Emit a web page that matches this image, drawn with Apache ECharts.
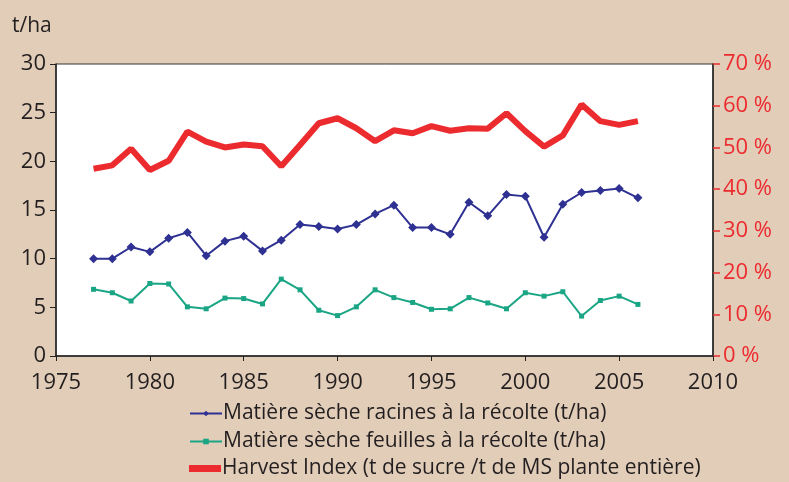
<!DOCTYPE html>
<html>
<head>
<meta charset="utf-8">
<script src="https://cdn.jsdelivr.net/npm/echarts@6/dist/echarts.min.js"></script>
<style>
html,body{margin:0;padding:0;background:#e2cdb9;}
#c{width:789px;height:482px;}
</style>
</head>
<body>
<div id="c"></div>
<script>
const years = [1977,1978,1979,1980,1981,1982,1983,1984,1985,1986,1987,1988,1989,1990,1991,1992,1993,1994,1995,1996,1997,1998,1999,2000,2001,2002,2003,2004,2005,2006];
const racines = [10.0,10.0,11.2,10.7,12.1,12.7,10.3,11.8,12.3,10.8,11.9,13.5,13.3,13.05,13.5,14.6,15.5,13.2,13.2,12.5,15.8,14.4,16.6,16.4,12.2,15.6,16.8,17.0,17.2,16.25];
const feuilles = [6.85,6.5,5.65,7.45,7.4,5.05,4.85,5.95,5.9,5.35,7.9,6.8,4.7,4.15,5.05,6.8,6.0,5.5,4.8,4.85,6.0,5.45,4.85,6.5,6.15,6.6,4.1,5.7,6.15,5.3];
const harvest = [44.9,45.7,49.7,44.6,46.8,53.8,51.4,50.0,50.7,50.3,45.5,50.6,55.8,57.0,54.6,51.5,54.1,53.4,55.1,54.0,54.6,54.5,58.2,53.9,50.2,52.9,60.3,56.3,55.4,56.3];
const names = ['Matière sèche racines à la récolte (t/ha)','Matière sèche feuilles à la récolte (t/ha)','Harvest Index (t de sucre /t de MS plante entière)'];
const yUnit = 't/ha';

const font = 'Open Sans';
const txt = '#231f20';
const red = '#ec2b2f';
const blue = '#2e3192';
const green = '#1aa584';
const chart = echarts.init(document.getElementById('c'));
const pair = a => years.map((y,i)=>[y,a[i]]);
const legendTops = [403,431,458];
const mkLegend = (i, extra) => Object.assign({orient:'vertical',left:189,top:legendTops[i],padding:0,itemWidth:32,itemHeight:7,
    textStyle:{fontFamily:font,fontSize:21,color:txt,padding:[0,0,0,-4]},
    data:[{name:names[i]}]}, extra||{});
chart.setOption({
  backgroundColor:'#e2cdb9',
  animation:false,
  textStyle:{fontFamily:font},
  graphic:[{type:'text',left:12,top:16,style:{text:yUnit,font:'21px "Open Sans"',fill:txt}}],
  grid:{left:56,right:76,top:64,bottom:126,show:true,backgroundColor:'#fff',borderColor:'#333',borderWidth:1},
  legend:[mkLegend(0), mkLegend(1), mkLegend(2,{data:[{name:names[2],icon:'rect',textStyle:{letterSpacing:0.9}}]})],
  xAxis:{type:'value',min:1975,max:2010,interval:5,
    axisLine:{lineStyle:{color:'#222',width:1.5}},
    axisTick:{length:5,lineStyle:{color:'#222'}},
    splitLine:{show:false},
    axisLabel:{fontSize:22,color:txt,margin:16,fontFamily:font,formatter:v=>String(v)}},
  yAxis:[{type:'value',min:0,max:30,interval:5,
    axisLine:{show:true,lineStyle:{color:'#222',width:1.5}},
    axisTick:{show:true,length:6,lineStyle:{color:'#222'}},
    splitLine:{show:false},
    axisLabel:{fontSize:22,color:txt,margin:10,fontFamily:font}},
   {type:'value',min:0,max:70,interval:10,position:'right',
    axisLine:{show:true,lineStyle:{color:'#222',width:1.5}},
    axisTick:{show:true,length:7,lineStyle:{color:red,width:1.5}},
    splitLine:{show:false},
    axisLabel:{fontSize:22,color:red,margin:10,fontFamily:font,formatter:'{value} %'}}],
  series:[
    {name:names[0],type:'line',data:pair(racines),symbol:'diamond',symbolSize:9,
      itemStyle:{color:blue},lineStyle:{color:blue,width:2}},
    {name:names[1],type:'line',data:pair(feuilles),symbol:'rect',symbolSize:5,
      itemStyle:{color:green},lineStyle:{color:green,width:2}},
    {name:names[2],type:'line',yAxisIndex:1,data:pair(harvest),symbol:'none',
      itemStyle:{color:red},lineStyle:{color:red,width:6}}
  ]
});
</script>
</body>
</html>
